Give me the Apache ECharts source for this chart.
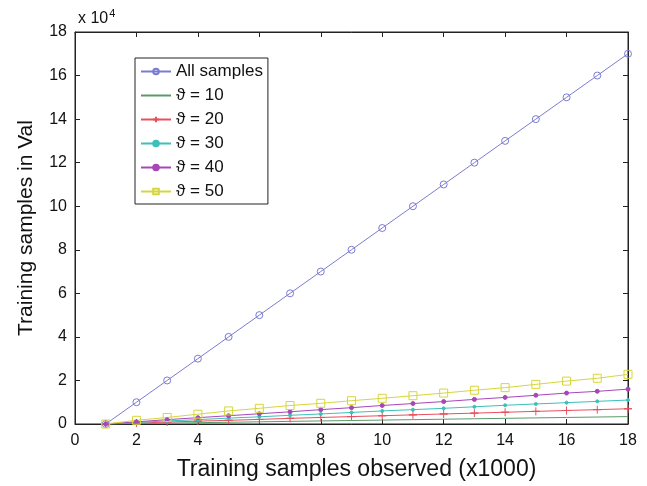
<!DOCTYPE html>
<html>
<head>
<meta charset="utf-8">
<script src="https://cdn.jsdelivr.net/npm/echarts@6/dist/echarts.min.js"></script>
<style>
html,body{margin:0;padding:0;background:#fff;}
#chart{width:647px;height:486px;}
</style>
</head>
<body>
<div id="chart"></div>
<script>
// Samples observed (thousands)
const observed = [1,2,3,4,5,6,7,8,9,10,11,12,13,14,15,16,17,18];
// Training samples kept in Val (units of 1e4)
const allSamples = [0,1,2,3,4,5,6,7,8,9,10,11,12,13,14,15,16,17];
const theta10 = [0,0.02,0.04,0.06,0.08,0.10,0.12,0.14,0.16,0.18,0.20,0.22,0.24,0.26,0.28,0.30,0.32,0.34];
const theta20 = [0,0.04,0.09,0.13,0.17,0.21,0.26,0.30,0.34,0.38,0.42,0.46,0.50,0.54,0.58,0.62,0.66,0.70];
const theta30 = [0,0.07,0.14,0.20,0.27,0.33,0.40,0.46,0.53,0.60,0.66,0.72,0.79,0.86,0.92,0.98,1.04,1.10];
const theta40 = [0,0.10,0.20,0.29,0.38,0.47,0.56,0.66,0.75,0.85,0.94,1.03,1.13,1.22,1.32,1.42,1.50,1.60];
const theta50 = [0,0.17,0.30,0.45,0.60,0.72,0.85,0.95,1.07,1.18,1.30,1.42,1.55,1.67,1.82,1.97,2.10,2.28];
const xTicks = [0,2,4,6,8,10,12,14,16,18];
const yTicks = [0,2,4,6,8,10,12,14,16,18];

const names = ['All samples','ϑ = 10','ϑ = 20','ϑ = 30','ϑ = 40','ϑ = 50'];
const plusPath = 'path://M5,0 L5,10 M0,5 L10,5 Z';

const pair = arr => observed.map((x, i) => [x, arr[i]]);
const font = 'Liberation Sans, Arial, sans-serif';

function line(name, data, color, symbol, size, fill, showSymbol) {
  return {
    name, type: 'line', data: pair(data),
    xAxisIndex: 0, yAxisIndex: 0,
    symbol, symbolSize: size, showSymbol,
    lineStyle: { color, width: 1 },
    itemStyle: { color: fill, borderColor: showSymbol ? color : 'rgba(0,0,0,0)', borderWidth: showSymbol ? 1 : 0 },
    emphasis: { disabled: true },
    animation: false
  };
}

const chart = echarts.init(document.getElementById('chart'), null, { renderer: 'canvas' });

const axisCommon = {
  min: xTicks[0], max: xTicks[xTicks.length - 1], interval: xTicks[1] - xTicks[0],
  axisLine: { show: true, onZero: false, lineStyle: { color: '#222', width: 1 } },
  axisTick: { show: true, inside: true, length: 5, lineStyle: { color: '#222' } },
  splitLine: { show: false }
};
const yCommon = Object.assign({}, axisCommon, {
  min: yTicks[0], max: yTicks[yTicks.length - 1], interval: yTicks[1] - yTicks[0]
});

chart.setOption({
  backgroundColor: '#fff',
  grid: { left: 75, right: 19, top: 32, bottom: 62, containLabel: false,
          show: true, borderColor: '#222', borderWidth: 1, backgroundColor: '#fff' },
  legend: {
    left: 135, top: 58, orient: 'vertical',
    data: names,
    itemWidth: 30, itemHeight: 7, itemGap: 7,
    padding: [5, 5, 4, 5],
    borderColor: '#222', borderWidth: 1, backgroundColor: '#fff',
    textStyle: { fontFamily: font, fontSize: 17, color: '#111' },
    selectedMode: false
  },
  xAxis: [
    Object.assign({}, axisCommon, {
      type: 'value', position: 'bottom',
      axisLabel: { fontFamily: font, fontSize: 16, color: '#111', margin: 9 },
      name: 'Training samples observed (x1000)', nameLocation: 'middle', nameGap: 34,
      nameTextStyle: { fontFamily: font, fontSize: 23, color: '#111', padding: [0, 0, 0, 10] }
    }),
    Object.assign({}, axisCommon, {
      type: 'value', position: 'top', axisLabel: { show: false }
    })
  ],
  yAxis: [
    Object.assign({}, yCommon, {
      type: 'value', position: 'left',
      axisLabel: { fontFamily: font, fontSize: 16, color: '#111', margin: 8 },
      name: 'Training samples in Val', nameLocation: 'middle', nameGap: 38,
      nameTextStyle: { fontFamily: font, fontSize: 21, color: '#111' }
    }),
    Object.assign({}, yCommon, {
      type: 'value', position: 'right', axisLabel: { show: false }
    })
  ],
  graphic: [{
    type: 'text', left: 78, top: 8,
    style: {
      text: '{b|x 10}{s|4}',
      rich: {
        b: { fontFamily: font, fontSize: 16, fill: '#111', verticalAlign: 'bottom' },
        s: { fontFamily: font, fontSize: 11, fill: '#111', verticalAlign: 'top', padding: [0, 0, 8, 1] }
      }
    }
  }],
  series: [
    line(names[0], allSamples, '#7b7bd0', 'circle', 7, 'rgba(0,0,0,0)', true),
    line(names[1], theta10, '#5a9a6a', 'circle', 1, 'rgba(0,0,0,0)', false),
    line(names[2], theta20, '#e8505e', plusPath, 8, '#e8505e', true),
    line(names[3], theta30, '#3cc0b8', 'circle', 3, '#3cc0b8', true),
    line(names[4], theta40, '#a846b8', 'circle', 4, '#a846b8', true),
    line(names[5], theta50, '#d6d63c', 'rect', 8, 'rgba(0,0,0,0)', true),
    // invisible helper series so the top and right frame axes carry ticks
    { type: 'line', data: [[0, 0]], xAxisIndex: 1, yAxisIndex: 1, silent: true, animation: false,
      showSymbol: false, symbol: 'none', lineStyle: { opacity: 0 } }
  ]
});
</script>
</body>
</html>
